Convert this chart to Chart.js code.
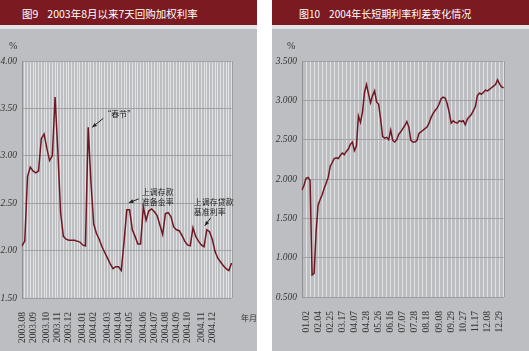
<!DOCTYPE html>
<html>
<head>
<meta charset="utf-8">
<script src="https://cdn.jsdelivr.net/npm/chart.js@4.4.1/dist/chart.umd.min.js"></script>
<style>
  body { margin: 0; width: 529px; height: 351px; background: #fff; position: relative; overflow: hidden; font-family: "Noto Sans CJK SC", sans-serif; }
  .panel { position: absolute; top: 0; width: 257px; height: 351px; background: #bdbec2; }
  .bar { position: absolute; left: 0; top: 0; width: 100%; height: 25px; background: #7b1b21; color: #fff; line-height: 27px; white-space: pre; }
  .strip { position: absolute; left: 0; top: 25px; width: 100%; height: 4px; background: #e4e4e6; }
  .panel canvas { position: absolute; left: 0; top: 30px; }
  .unit { position: absolute; font-family: "Liberation Serif", serif; font-size: 10px; color: #333; }
  .ym { position: absolute; font-size: 8px; color: #333; }
</style>
</head>
<body>
<div class="panel" style="left:0">
  <div class="bar" style="font-size:10.5px;padding-left:22px;box-sizing:border-box">图9<span style="display:inline-block;width:9px"></span>2003年8月以来7天回购加权利率</div>
  <div class="strip"></div>
  <canvas id="left" width="257" height="321"></canvas>
  <div class="unit" style="left:9px;top:40px">%</div>
  <div class="ym" style="left:241px;top:312px">年月</div>
</div>
<div class="panel" style="left:272px">
  <div class="bar" style="font-size:10px;padding-left:27px;box-sizing:border-box">图10<span style="display:inline-block;width:9px"></span>2004年长短期利率利差变化情况</div>
  <div class="strip"></div>
  <canvas id="right" width="257" height="321"></canvas>
  <div class="unit" style="left:15px;top:40px">%</div>
</div>

<script>
// Fig 9: weekly 7-day repo weighted rate, Aug 2003 - Jan 2005 (%)
const leftRates = [
  2.05, 2.10, 2.78, 2.88, 2.84, 2.82, 2.84, 3.18, 3.23, 3.08,
  2.95, 3.00, 3.62, 3.04, 2.40, 2.15, 2.12, 2.11, 2.11, 2.11,
  2.10, 2.09, 2.06, 2.05, 3.30, 2.72, 2.28, 2.18, 2.12, 2.04,
  1.98, 1.92, 1.86, 1.81, 1.83, 1.83, 1.79, 2.09, 2.43, 2.43,
  2.22, 2.15, 2.07, 2.07, 2.46, 2.32, 2.42, 2.44, 2.41, 2.37,
  2.27, 2.17, 2.39, 2.40, 2.36, 2.25, 2.22, 2.21, 2.16, 2.10,
  2.06, 2.05, 2.24, 2.15, 2.10, 2.06, 2.04, 2.22, 2.20, 2.12,
  1.99, 1.92, 1.88, 1.84, 1.81, 1.79, 1.87
];
const leftTickIdx = [0, 4, 9, 13, 17, 22, 26, 31, 35, 39, 44, 48, 52, 56, 60, 65, 69];
const leftTickText = ['2003.08', '2003.09', '2003.10', '2003.11', '2003.12', '2004.01', '2004.02',
  '2004.03', '2004.04', '2004.05', '2004.06', '2004.07', '2004.08', '2004.09', '2004.10', '2004.11', '2004.12'];
const leftCats = leftRates.map((v, i) => {
  const k = leftTickIdx.indexOf(i);
  return k >= 0 ? leftTickText[k] : '';
});

// Fig 10: long-short rate spread in 2004 (%)
const rightSpread = [
  1.86, 1.92, 2.01, 2.02, 1.98, 0.78, 0.80, 1.33, 1.67, 1.74,
  1.80, 1.88, 1.95, 2.02, 2.16, 2.21, 2.26, 2.27, 2.26, 2.30,
  2.33, 2.31, 2.35, 2.38, 2.44, 2.47, 2.36, 2.42, 2.80, 2.72,
  2.85, 3.10, 3.20, 3.08, 2.97, 3.06, 3.12, 2.98, 2.95, 2.76,
  2.54, 2.52, 2.53, 2.50, 2.62, 2.49, 2.47, 2.50, 2.57, 2.60,
  2.64, 2.68, 2.73, 2.66, 2.49, 2.47, 2.47, 2.49, 2.58, 2.60,
  2.62, 2.64, 2.66, 2.71, 2.78, 2.83, 2.87, 2.90, 2.95, 3.02,
  3.04, 3.03, 2.96, 2.85, 2.71, 2.74, 2.72, 2.71, 2.74, 2.73,
  2.74, 2.69, 2.76, 2.79, 2.82, 2.87, 2.92, 3.06, 3.09, 3.08,
  3.10, 3.13, 3.12, 3.14, 3.16, 3.18, 3.20, 3.26, 3.21, 3.17,
  3.16
];
const rightTickIdx = [2, 8, 14, 20, 26, 32, 38, 44, 50, 56, 62, 68, 74, 80, 86, 92, 98];
const rightTickText = ['01.02', '02.04', '02.25', '03.17', '04.07', '04.28', '05.26', '06.16', '07.07',
  '07.28', '08.18', '09.08', '09.29', '10.27', '11.17', '12.08', '12.29'];
const rightCats = rightSpread.map((v, i) => {
  const k = rightTickIdx.indexOf(i);
  return k >= 0 ? rightTickText[k] : '';
});

// callouts on fig 9 (anchored to data points, offsets in px)
const leftNotes = [
  { index: 24, lines: ['“春节”'], tip: [4, 0], tail: [15, -9], text: [15, -13] },
  { index: 38, lines: ['上调存款', '准备金率'], tip: [2, -7], tail: [12, -11], text: [15, -18] },
  { index: 67, lines: ['上调存贷款', '基准利率'], tip: [-2, -4], tail: [4, -12], text: [-13, -28] }
];

const notesPlugin = {
  id: 'notes',
  afterDatasetsDraw(chart, args, opts) {
    const { ctx, chartArea, scales } = chart;
    ctx.save();
    // right frame line
    ctx.strokeStyle = '#9c9da1';
    ctx.lineWidth = 1;
    ctx.beginPath();
    ctx.moveTo(Math.round(chartArea.right) + 0.5, chartArea.top);
    ctx.lineTo(Math.round(chartArea.right) + 0.5, chartArea.bottom);
    ctx.stroke();

    const data = chart.data.datasets[0].data;
    (opts.items || []).forEach(n => {
      const px = scales.x.getPixelForValue(n.index);
      const py = scales.y.getPixelForValue(data[n.index]);
      const tx = px + n.tip[0], ty = py + n.tip[1];
      const sx = px + n.tail[0], sy = py + n.tail[1];
      ctx.strokeStyle = '#222';
      ctx.fillStyle = '#222';
      ctx.lineWidth = 1;
      ctx.beginPath();
      ctx.moveTo(sx, sy);
      ctx.lineTo(tx, ty);
      ctx.stroke();
      const a = Math.atan2(ty - sy, tx - sx);
      ctx.beginPath();
      ctx.moveTo(tx, ty);
      ctx.lineTo(tx - 5 * Math.cos(a - 0.4), ty - 5 * Math.sin(a - 0.4));
      ctx.lineTo(tx - 5 * Math.cos(a + 0.4), ty - 5 * Math.sin(a + 0.4));
      ctx.closePath();
      ctx.fill();

      ctx.font = '8px "Noto Sans CJK SC"';
      ctx.textAlign = 'left';
      ctx.textBaseline = 'middle';
      ctx.fillStyle = '#1e1e1e';
      n.lines.forEach((s, j) => ctx.fillText(s, px + n.text[0], py + n.text[1] + j * 10));
    });
    ctx.restore();
  }
};

function makeChart(id, cats, values, yMin, yMax, digits, yWidth, xHeight, gridEvery, notes) {
  return new Chart(document.getElementById(id), {
    type: 'line',
    data: {
      labels: cats,
      datasets: [{
        data: values,
        borderColor: '#6f1822',
        borderWidth: 1.5,
        pointRadius: 0,
        tension: 0
      }]
    },
    options: {
      responsive: false,
      animation: false,
      devicePixelRatio: 1,
      layout: { padding: { top: 31, right: 6, left: 0, bottom: 0 } },
      plugins: { legend: { display: false }, tooltip: { enabled: false }, notes: { items: notes } },
      scales: {
        x: {
          grid: {
            drawTicks: false,
            color: c => (c.index % gridEvery === 0 ? 'rgba(255,255,255,0.55)' : 'rgba(0,0,0,0)'),
            lineWidth: 1
          },
          border: { color: '#9c9da1' },
          ticks: {
            autoSkip: false,
            minRotation: 90,
            maxRotation: 90,
            padding: 14,
            color: '#333',
            font: { family: 'Liberation Serif', size: 9.5 }
          },
          afterFit: s => { s.height = xHeight; }
        },
        y: {
          min: yMin,
          max: yMax,
          grid: { drawTicks: false, color: '#a1a2a6', lineWidth: 1 },
          border: { color: '#8f9094' },
          ticks: {
            stepSize: 0.5,
            padding: 5,
            color: '#333',
            font: { family: 'Liberation Serif', size: 9.5, style: 'italic' },
            callback: v => v.toFixed(digits)
          },
          afterFit: s => { s.width = yWidth; }
        }
      }
    },
    plugins: [notesPlugin]
  });
}

makeChart('left', leftCats, leftRates, 1.5, 4.0, 2, 22, 53, 1, leftNotes);
makeChart('right', rightCats, rightSpread, 0.5, 3.5, 3, 30, 54, 2, []);
</script>
</body>
</html>
